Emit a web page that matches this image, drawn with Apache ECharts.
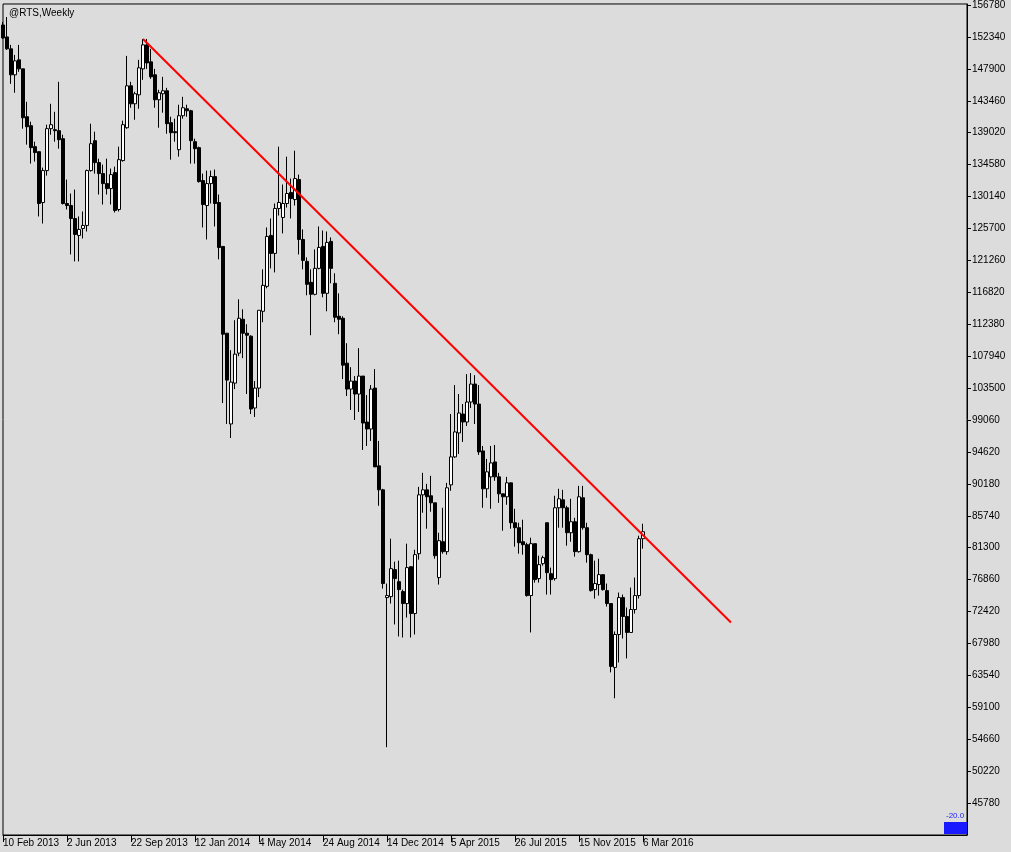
<!DOCTYPE html>
<html>
<head>
<meta charset="utf-8">
<script src="https://cdn.jsdelivr.net/npm/echarts@6/dist/echarts.min.js"></script>
<style>
  html, body { margin: 0; padding: 0; background: #dcdcdc; }
  #chart { width: 1011px; height: 852px; }
</style>
</head>
<body>
<div id="chart"></div>
<script>
// weekly RTS candles, first bar 10 Feb 2013
const opens = [
  154000,152340,150680,147070,149150,147900,141240,139990,137080,136380,
  129310,133750,139580,139440,139300,138190,129170,128890,127090,124730,
  125700,126120,133750,137910,134860,133330,131940,131250,133470,128340,
  135140,139710,145540,143040,144290,147900,151230,148870,147070,143600,
  144430,144850,140410,139160,136660,141380,142350,142070,137770,136940,
  132360,128890,131940,132920,129310,123200,111130,98510,104190,108360,
  113070,111130,110720,100730,103500,114180,117650,124730,122230,128480,
  127230,129170,130700,129720,132500,124170,121120,118210,116540,120150,
  123200,116680,123900,118070,113490,113210,106970,103360,104470,102670,
  105170,98780,97810,103500,92680,89350,74360,74500,78250,76580,
  75200,73530,78660,72140,80470,88650,89350,88520,87540,77140,
  82130,80750,90040,93930,97260,99890,98780,101560,104060,101280,
  94760,89490,91150,93230,91150,88790,88380,90320,84770,84080,
  82130,81720,74640,81860,77000,79080,84770,77690,77000,86850,
  87960,86850,83380,84910,80750,88240,84080,80330,75470,76170,
  77550,75330,73530,64650,69230,74360,71730,69510,72700,74640,
  82550
];
const closes = [
  152200,150680,147070,149010,147900,141100,139850,136940,136250,129170,
  133750,139580,140130,139300,138050,129170,128890,127090,124870,125560,
  126120,133750,137490,134860,133330,131940,131250,133190,128200,135270,
  140130,145540,143040,144430,148040,151230,148730,146790,143600,144570,
  144850,140270,139020,139020,141380,142490,142070,137910,136800,132220,
  129030,131940,132920,129170,123060,110990,104610,104330,108220,113210,
  111130,110850,100590,103500,114320,117790,124590,122230,128480,129310,
  129170,130560,129860,132640,124170,121260,117930,116540,120150,123060,
  116680,123760,120150,113350,113070,106690,103360,104470,102670,105170,
  98640,97810,103360,92540,89350,76310,74640,78390,77000,75470,
  73530,78530,72140,80330,88650,89350,88380,87540,80190,82270,
  80750,89630,93930,97400,100030,98780,101560,104060,101280,94620,
  89490,91850,93090,91150,88790,88380,90320,84770,84080,81990,
  81720,74640,81860,76860,78940,79910,77830,76860,86850,88100,
  86850,83380,84910,80750,88380,84080,80330,75330,76310,77550,
  75470,73530,64790,69230,74360,71730,69510,72700,74640,82550,
  83520
];
const lows = [
  152060,150540,145820,144570,147480,139580,137360,134720,135000,127370,
  126390,133050,138740,137770,136800,129030,128340,122090,121120,121120,
  124310,125280,133610,133330,130420,129030,130420,129030,127920,128060,
  135000,139580,142490,140820,142350,146370,147900,146510,142490,139710,
  141800,138880,135270,137770,135690,140960,141240,134720,134720,132080,
  125840,124170,129170,125980,121400,101420,98510,96560,103360,107940,
  107660,102670,99890,99480,102250,112660,117380,120150,119590,127500,
  125010,128610,127090,128890,122090,120010,116400,110850,116400,120010,
  116130,114180,118070,112660,110990,104750,102390,100450,99060,100170,
  94900,95450,96150,92540,87130,75610,53550,73530,70620,68950,
  68810,71590,68810,69230,79640,86160,83940,86300,79770,76170,
  80470,80330,89210,93790,94340,96010,98230,100730,98510,94200,
  86850,88240,86710,90600,87540,83660,87270,83940,81440,80470,
  80330,74500,69510,76440,76440,78800,74780,74780,76720,84080,
  84080,81580,82130,80050,80610,83800,79220,75200,74220,74640,
  75330,73110,63960,60350,65340,68670,65900,69510,72140,74220,
  81160
];
const highs = [
  154420,155110,151230,149840,151230,147900,143320,140550,137770,136380,
  134160,140130,143040,141930,146100,138740,132500,130560,131110,127370,
  128060,133890,140270,139160,135410,134580,135410,134030,134300,137080,
  140690,149700,146100,144710,149150,152060,152060,150680,147900,144990,
  146790,145260,141240,140960,142910,144010,142910,142210,138190,137080,
  133330,133750,133750,133890,130420,123200,111130,108770,112940,115850,
  114460,112380,110850,104470,114320,120010,125840,127090,129170,137080,
  131810,135690,132640,136520,133190,125560,121680,120010,122790,125980,
  125420,125280,124450,119460,116680,113490,109740,106410,105170,109050,
  105170,102530,103920,106140,96150,89490,76310,82550,79360,79500,
  75470,81860,78660,81020,89760,91710,90180,91290,87540,83380,
  86850,90320,99890,103920,102670,101280,105440,105580,105300,103920,
  95450,93650,95450,95590,91710,88790,91150,90320,86710,84770,
  85190,81990,82690,81860,80190,80190,84770,78530,88520,89490,
  89350,87130,88100,85460,89900,89900,84770,80470,79500,79770,
  77550,76310,73530,69650,75060,74780,72980,75750,77140,82970,
  84630
];

const priceTicks = [156780,152340,147900,143460,139020,134580,130140,125700,121260,
  116820,112380,107940,103500,99060,94620,90180,85740,81300,76860,72420,67980,
  63540,59100,54660,50220,45780];

// trend line: from the Sep 2013 high to the right, 2 anchors
const trendIdx = [35, 182];
const trendVal = [152060, 70890];

const months = ['Jan','Feb','Mar','Apr','May','Jun','Jul','Aug','Sep','Oct','Nov','Dec'];
const slots = 242;      // bars + empty space on the right
const lastBar = opens.length - 1;
let cats = [];
for (let i = 0; i < slots; i++) {
    let d = new Date(Date.UTC(2013, 1, 10) + i * 7 * 86400000);
    cats.push(d.getUTCDate() + ' ' + months[d.getUTCMonth()] + ' ' + d.getUTCFullYear());
}
let candles = opens.map((o, i) => [o, closes[i], lows[i], highs[i]]);

const font = 'Liberation Sans';
let showTick = (idx) => idx % 16 === 0 && idx <= lastBar;

let chart = echarts.init(document.getElementById('chart'));
chart.setOption({
    animation: false,
    backgroundColor: '#dcdcdc',
    textStyle: { fontFamily: font },
    title: {
        text: '@RTS,Weekly',
        left: 4, top: 3,
        textStyle: { fontSize: 10, fontWeight: 'normal', color: '#000', fontFamily: font }
    },
    grid: {
        left: 2, top: 2, right: 44, bottom: 17,
        show: true, borderColor: '#000', borderWidth: 1, backgroundColor: 'transparent'
    },
    xAxis: {
        type: 'category',
        data: cats,
        boundaryGap: false,
        axisLine: { lineStyle: { color: '#000', width: 1 } },
        axisTick: { interval: showTick, length: 7, lineStyle: { color: '#000' } },
        axisLabel: {
            interval: showTick, align: 'left', margin: 3,
            color: '#000', fontSize: 10, fontFamily: font
        },
        splitLine: { show: false }
    },
    yAxis: {
        type: 'value',
        position: 'right',
        min: 41340,
        max: 156920,
        scale: true,
        axisLine: { show: true, lineStyle: { color: '#000', width: 1 } },
        axisTick: { show: true, customValues: priceTicks, length: 4, lineStyle: { color: '#000' } },
        axisLabel: {
            customValues: priceTicks, margin: 5, color: '#000', fontSize: 10, fontFamily: font,
            formatter: (v) => String(v)
        },
        splitLine: { show: false }
    },
    graphic: [
        { type: 'rect', shape: { x: 944, y: 822, width: 23, height: 12 }, style: { fill: '#1a1aff' } },
        { type: 'text', x: 946, y: 812, style: { text: '-20.0', fill: '#1a1aff', font: '8px ' + font } }
    ],
    series: [{
        type: 'candlestick',
        data: candles,
        barWidth: 3,
        itemStyle: {
            color: '#ffffff', color0: '#000000',
            borderColor: '#000000', borderColor0: '#000000', borderWidth: 1
        },
        markLine: {
            silent: true,
            symbol: ['none', 'none'],
            label: { show: false },
            lineStyle: { color: '#ff0000', width: 2, type: 'solid' },
            data: [[
                { coord: [cats[trendIdx[0]], trendVal[0]] },
                { coord: [cats[trendIdx[1]], trendVal[1]] }
            ]]
        }
    }]
});
</script>
</body>
</html>
